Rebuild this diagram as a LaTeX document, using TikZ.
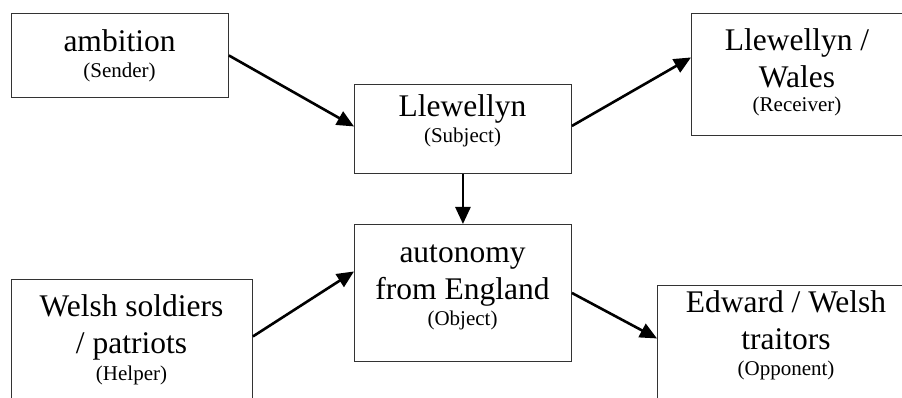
\documentclass[tikz,border=0pt]{standalone}
\usepackage{fontspec}
\setmainfont{Liberation Serif}
\usetikzlibrary{arrows.meta}
\newcommand\smalltxt[1]{{\fontsize{21}{25}\selectfont #1}}
\tikzset{
  box/.style={draw=black!80, line width=0.9pt, rectangle, inner sep=0pt, anchor=north west},
  lbl/.style={inner sep=0pt, anchor=base, font=\fontsize{31.5}{37}\selectfont},
  arr/.style={line width=2.6pt, -{Triangle[length=17pt,width=15pt]}},
}
\begin{document}
\begin{tikzpicture}[x=1pt, y=-1pt]
\useasboundingbox (0,0) rectangle (902,398);
\clip (0,0) rectangle (902,398);
\fill[white] (0,0) rectangle (902,398);
% boxes
\node[box, minimum width=217pt, minimum height=84pt]  (sender)   at (11,13)  {};
\node[box, minimum width=217pt, minimum height=89pt]  (subject)  at (354,84) {};
\node[box, minimum width=217pt, minimum height=137pt] (object)   at (354,224) {};
\node[box, minimum width=212pt, minimum height=122pt] (receiver) at (691,13) {};
\node[box, minimum width=241pt, minimum height=131pt] (helper)   at (11,279) {};
\node[box, minimum width=258pt, minimum height=127pt] (opponent) at (657,285) {};
% texts
\node[lbl] (senderT)   at (119.5,51.7) {\begin{tabular}[t]{@{}c@{}}ambition\\[-11pt]\smalltxt{(Sender)}\end{tabular}};
\node[lbl] (subjectT)  at (462.5,117)  {\begin{tabular}[t]{@{}c@{}}Llewellyn\\[-11pt]\smalltxt{(Subject)}\end{tabular}};
\node[lbl] (objectT)   at (462.5,262.7) {\begin{tabular}[t]{@{}c@{}}autonomy\\from England\\[-11pt]\smalltxt{(Object)}\end{tabular}};
\node[lbl] (receiverT) at (797,51)     {\begin{tabular}[t]{@{}c@{}}Llewellyn /\\Wales\\[-13pt]\smalltxt{(Receiver)}\end{tabular}};
\node[lbl] (helperT)   at (131.5,316.7) {\begin{tabular}[t]{@{}c@{}}Welsh soldiers\\/ patriots\\[-10pt]\smalltxt{(Helper)}\end{tabular}};
\node[lbl] (opponentT) at (786,312)    {\begin{tabular}[t]{@{}c@{}}Edward / Welsh\\traitors\\[-11pt]\smalltxt{(Opponent)}\end{tabular}};
% connectors
\draw[arr] (sender.east) -- ([yshift=2.5pt]subject.west);
\draw[arr] ([yshift=3pt]subject.east) -- ([yshift=17pt]receiver.west);
\draw[arr] (subject.south) -- (object.north);
\draw[arr] ([yshift=8.5pt]helper.east) -- ([yshift=21.5pt]object.west);
\draw[arr] (object.east) -- ([yshift=10.5pt]opponent.west);
\end{tikzpicture}
\end{document}
